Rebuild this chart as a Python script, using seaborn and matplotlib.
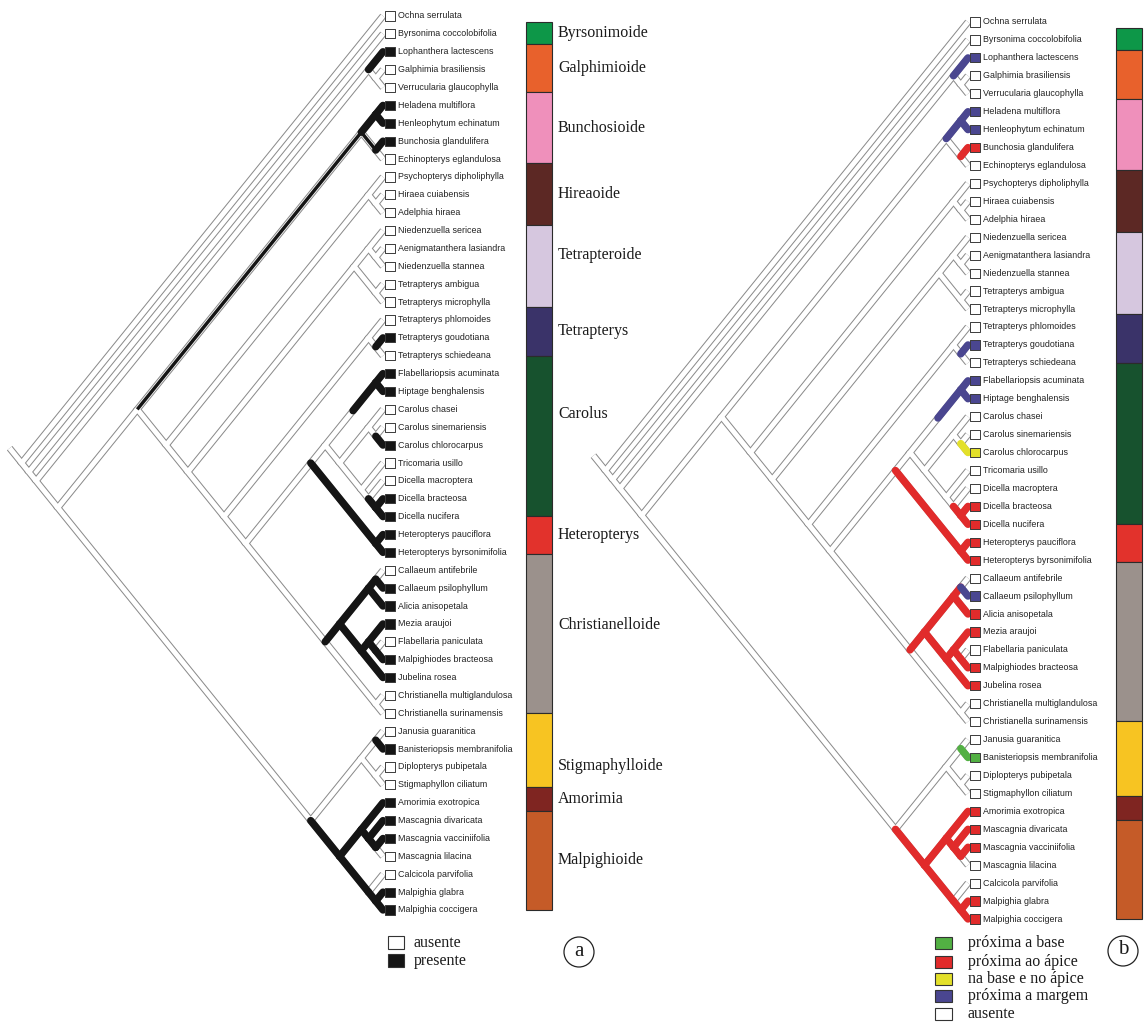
import matplotlib
matplotlib.use("Agg")
import matplotlib.pyplot as plt
from matplotlib.patches import Rectangle, Circle
import pandas as pd
import seaborn as sns

# ---------------------------------------------------------------- data
taxa = [
    "Ochna serrulata", "Byrsonima coccolobifolia", "Lophanthera lactescens",
    "Galphimia brasiliensis", "Verrucularia glaucophylla", "Heladena multiflora",
    "Henleophytum echinatum", "Bunchosia glandulifera", "Echinopterys eglandulosa",
    "Psychopterys dipholiphylla", "Hiraea cuiabensis", "Adelphia hiraea",
    "Niedenzuella sericea", "Aenigmatanthera lasiandra", "Niedenzuella stannea",
    "Tetrapterys ambigua", "Tetrapterys microphylla", "Tetrapterys phlomoides",
    "Tetrapterys goudotiana", "Tetrapterys schiedeana", "Flabellariopsis acuminata",
    "Hiptage benghalensis", "Carolus chasei", "Carolus sinemariensis",
    "Carolus chlorocarpus", "Tricomaria usillo", "Dicella macroptera",
    "Dicella bracteosa", "Dicella nucifera", "Heteropterys pauciflora",
    "Heteropterys byrsonimifolia", "Callaeum antifebrile", "Callaeum psilophyllum",
    "Alicia anisopetala", "Mezia araujoi", "Flabellaria paniculata",
    "Malpighiodes bracteosa", "Jubelina rosea", "Christianella multiglandulosa",
    "Christianella surinamensis", "Janusia guaranitica", "Banisteriopsis membranifolia",
    "Diplopterys pubipetala", "Stigmaphyllon ciliatum", "Amorimia exotropica",
    "Mascagnia divaricata", "Mascagnia vacciniifolia", "Mascagnia lilacina",
    "Calcicola parvifolia", "Malpighia glabra", "Malpighia coccigera",
]

# topology (taxa numbered 1..51 in the order above)
galphimioid = (3, (4, 5))
bunchosioid = ((6, 7), (8, 9))
hireaoid = (10, (11, 12))
tetrapteroid = ((13, (14, 15)), (16, 17))
tetrapterys = (18, (19, 20))
carolus = (((21, 22), ((23, (24, 25)), (26, (27, (28, 29))))), (30, 31))
christianelloid = ((((32, 33), 34), ((35, (36, 37)), 38)), (39, 40))
stigmaphylloid = ((41, 42), (43, 44))
malpighioid = ((45, (46, (47, 48))), (49, (50, 51)))
tree = (1, (2, (galphimioid,
                ((bunchosioid, (hireaoid, (tetrapteroid, (tetrapterys, (carolus, christianelloid))))),
                 (stigmaphylloid, malpighioid)))))

# character (a): 0 ausente, 1 presente
states_a_names = ["ausente", "presente"]
state_a = [0, 0, 1, 0, 0, 1, 1, 1, 0, 0,
           0, 0, 0, 0, 0, 0, 0, 0, 1, 0,
           1, 1, 0, 0, 1, 0, 0, 1, 1, 1,
           1, 0, 1, 1, 1, 0, 1, 1, 0, 0,
           0, 1, 0, 0, 1, 1, 1, 0, 0, 1,
           1]

# character (b): 0 ausente, 1 base, 2 apice, 3 base e apice, 4 margem
states_b_names = ["ausente", "próxima a base", "próxima ao ápice",
                  "na base e no ápice", "próxima a margem"]
state_b = [0, 0, 4, 0, 0, 4, 4, 2, 0, 0,
           0, 0, 0, 0, 0, 0, 0, 0, 4, 0,
           4, 4, 0, 0, 3, 0, 0, 2, 2, 2,
           2, 0, 4, 2, 2, 0, 2, 2, 0, 0,
           0, 1, 0, 0, 2, 2, 2, 0, 0, 2,
           2]

# internal branches carrying a state, keyed by (first, last) taxon of the clade below
christ_branches = [(32, 38), (32, 34), (32, 33), (35, 38), (35, 37), (36, 37)]
malp_branches = [(45, 51), (45, 48), (46, 48), (47, 48), (49, 51), (50, 51)]
internal_a = {(6, 7): 1, (21, 22): 1, (28, 29): 1, (30, 31): 1}
internal_a.update({k: 1 for k in christ_branches + malp_branches})
internal_b = {(6, 7): 4, (21, 22): 4, (28, 29): 2, (30, 31): 2}
internal_b.update({k: 2 for k in christ_branches + malp_branches})
equivocal_a = [(6, 9), (8, 9)]
partial_start = {(21, 22): 0.55}

# clade bars
clades = ["Byrsonimoide", "Galphimioide", "Bunchosioide", "Hireaoide", "Tetrapteroide",
          "Tetrapterys", "Carolus", "Heteropterys", "Christianelloide",
          "Stigmaphylloide", "Amorimia", "Malpighioide"]
clade_colors = ["#0d9748", "#e8612c", "#ef90bb", "#5c2824", "#d6c7df", "#3a3369",
                "#17522e", "#e2322c", "#9b918c", "#f7c422", "#7f2521", "#c55b28"]
clade_edges = [0.35, 1.55, 4.27, 8.23, 11.7, 16.25, 19.0, 27.97, 30.1, 38.97,
               43.13, 44.46, 50.0]

# ---------------------------------------------------------------- style
pal_a = {0: "#ffffff", 1: "#151515"}
pal_b = {0: "#ffffff", 1: "#52b043", 2: "#e12b2b", 3: "#e3e02a", 4: "#4a4690"}

sns.set_theme(style="white")
plt.rcParams["font.family"] = ["Liberation Sans", "DejaVu Sans"]
SERIF = ["Liberation Serif", "DejaVu Serif"]

PX = 0.72          # points per pixel at 100 dpi
SLOPE = 1.237      # rise per unit run of the diagonal branches
OUTLINE = "#8a8a8a"

fig = plt.figure(figsize=(11.47, 10.22), dpi=100)
ax = fig.add_axes([0, 0, 1, 1])
ax.set_xlim(0, 1147)
ax.set_ylim(1022, 0)
ax.axis("off")


def draw_tree(tipx, y0, dy, states, pal, internal, equivocal):
    Y = lambda i: y0 + (i - 1) * dy
    pos, kids = {}, {}

    def walk(node):
        if isinstance(node, int):
            pos[(node, node)] = (tipx, Y(node))
            return (node, node)
        spans = [walk(c) for c in node]
        key = (spans[0][0], spans[-1][1])
        span = Y(key[1]) - Y(key[0])
        pos[key] = (tipx - span / 2 / SLOPE, (Y(key[0]) + Y(key[1])) / 2)
        kids[key] = spans
        return key

    root = walk(tree)
    parent = {c: k for k, ch in kids.items() for c in ch}

    paths = [[pos[ch[0]], pos[k], pos[ch[-1]]] for k, ch in kids.items()]
    rx, ry = pos[root]
    paths.append([(rx - 12, ry - 12 * SLOPE), (rx, ry)])
    for lw, col, z in [(7.0, OUTLINE, 1), (5.0, "white", 2)]:
        for p in paths:
            xs, ys = zip(*p)
            ax.plot(xs, ys, color=col, lw=lw * PX, solid_joinstyle="miter",
                    solid_capstyle="butt", zorder=z)

    coloured = dict(internal)
    for i, s in enumerate(states, start=1):
        if s != 0:
            coloured[(i, i)] = s
    for key, s in coloured.items():
        (px_, py_), (cx, cy) = pos[parent[key]], pos[key]
        f = partial_start.get(key, 0.0)
        sx, sy = px_ + f * (cx - px_), py_ + f * (cy - py_)
        ax.plot([sx, cx], [sy, cy], color=pal[s], lw=7.4 * PX,
                solid_capstyle="round", zorder=3)
    for key in equivocal:
        (px_, py_), (cx, cy) = pos[parent[key]], pos[key]
        ax.plot([px_, cx], [py_, cy], color=pal_a[1], lw=3.4 * PX,
                solid_capstyle="butt", zorder=3)

    df = pd.DataFrame({"x": tipx + 7, "y": [Y(i) for i in range(1, len(taxa) + 1)],
                       "state": states})
    sns.scatterplot(data=df, x="x", y="y", hue="state", palette=pal, marker="s",
                    s=44, edgecolor="#3a3a3a", linewidth=0.7, legend=False,
                    ax=ax, zorder=4)
    for i, name in enumerate(taxa, start=1):
        ax.text(tipx + 15, Y(i), name, fontsize=6.4, va="center", ha="left",
                color="#222222", zorder=5)


label_shift = {"Tetrapteroide": -11, "Carolus": -22, "Christianelloide": -8,
               "Stigmaphylloide": 16}


def draw_bar(xc, y0, dy, with_labels):
    for k, (name, col) in enumerate(zip(clades, clade_colors)):
        top = y0 + clade_edges[k] * dy
        bot = y0 + clade_edges[k + 1] * dy
        ax.bar(xc, bot - top, bottom=top, width=26, color=col,
               edgecolor="#2b2b2b", linewidth=0.8, zorder=2)
        if with_labels:
            shift = label_shift.get(name, 0)
            ax.text(558, (top + bot) / 2 + shift, name, fontsize=11.5,
                    family=SERIF, va="center", ha="left", color="#1a1a1a")


# ---------------------------------------------------------------- panel a
draw_tree(383, 16, 17.88, state_a, pal_a, internal_a, equivocal_a)
draw_bar(539, 16, 17.88, True)

for k, (name, yc) in enumerate(zip(states_a_names, [943, 961])):
    ax.add_patch(Rectangle((388, yc - 6.5), 16, 12.5, facecolor=pal_a[k],
                           edgecolor="#333333", linewidth=0.8))
    ax.text(414, yc, name, fontsize=11.5, family=SERIF,
            va="center", ha="left", color="#1a1a1a")
ax.add_patch(Circle((579, 952), 15, facecolor="white", edgecolor="#222222", lw=0.9))
ax.text(579, 951, "a", fontsize=15, family=SERIF,
        ha="center", va="center", color="#1a1a1a")

# ---------------------------------------------------------------- panel b
draw_tree(968, 22, 17.94, state_b, pal_b, internal_b, [])
draw_bar(1128.5, 22, 17.94, False)

legend_b = [1, 2, 3, 4, 0]
for k, yc in zip(legend_b, [943, 962, 979, 996, 1014]):
    ax.add_patch(Rectangle((935, yc - 5.5), 17, 11.5, facecolor=pal_b[k],
                           edgecolor="#333333", linewidth=0.8))
    ax.text(968, yc, states_b_names[k], fontsize=11.5, family=SERIF,
            va="center", ha="left", color="#1a1a1a")
ax.add_patch(Circle((1123, 951), 15, facecolor="white", edgecolor="#222222", lw=0.9))
ax.text(1123, 950, "b", fontsize=15, family=SERIF,
        ha="center", va="center", color="#1a1a1a")

fig.savefig("out.png", dpi=100, facecolor="white")
